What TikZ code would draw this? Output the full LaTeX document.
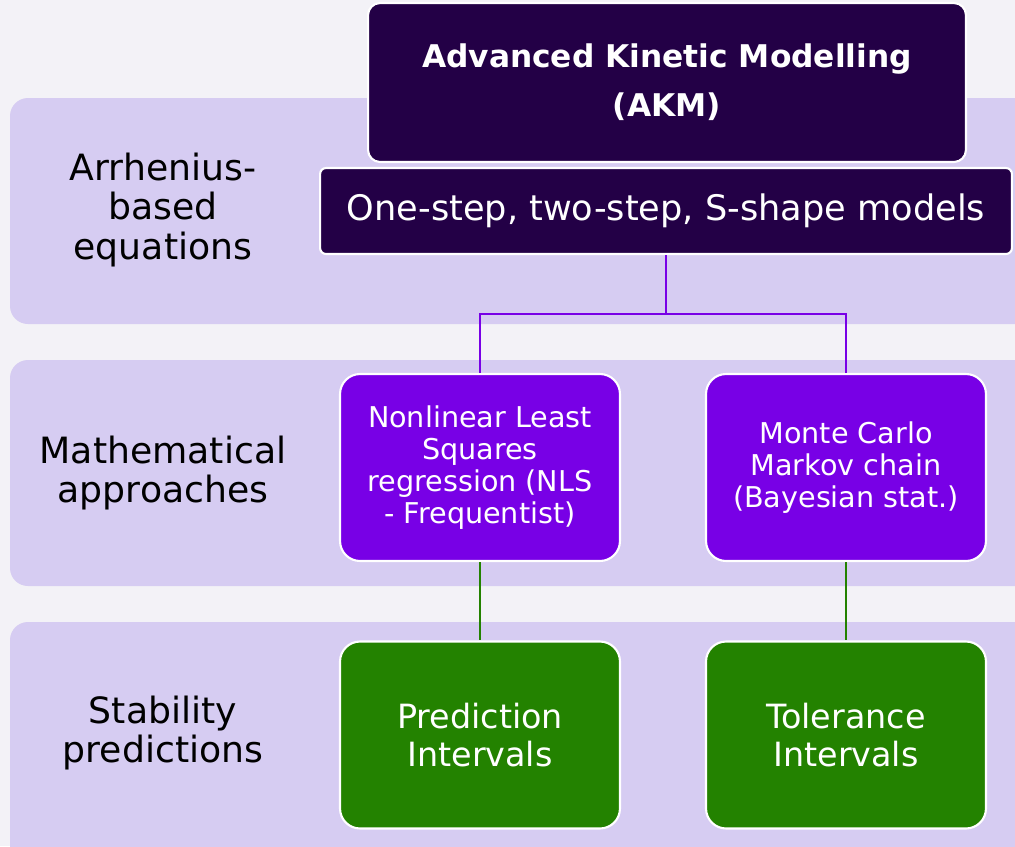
\documentclass[tikz,border=0pt]{standalone}
\usepackage{fontspec}
\setmainfont{DejaVu Sans}
\usepackage{tikz}
\usetikzlibrary{positioning}

\definecolor{pagebg}{HTML}{F3F2F7}
\definecolor{bandbg}{HTML}{D6CCF2}
\definecolor{akmdark}{HTML}{230046}
\definecolor{methpurple}{HTML}{7800E6}
\definecolor{predgreen}{HTML}{238200}

\begin{document}
\begin{tikzpicture}[x=0.02cm,y=-0.02cm,
band/.style={fill=bandbg,rounded corners=18*0.02cm},
rowlabel/.style={align=center,font=\fontsize{20.6}{22.7}\selectfont},
box/.style={draw=white,line width=1.2pt,text=white,align=center,rounded corners=20*0.02cm,
  minimum width=5.6cm,minimum height=3.74cm},
purplelink/.style={draw=methpurple,line width=1.2pt},
greenlink/.style={draw=predgreen,line width=1.2pt},
]
\useasboundingbox (0,0) rectangle (1015,846);
\fill[pagebg] (0,0) rectangle (1015,846);

% rows
\fill[band] (10,98) rectangle (1040,324);
\fill[band] (10,360) rectangle (1040,586);
\fill[band] (10,622) rectangle (1040,880);

\node[rowlabel] (arrh) at (163,210) {Arrhenius-\\based\\equations};
\node[rowlabel] (math) at (163,473) {Mathematical\\approaches};
\node[rowlabel] (stab) at (163,733) {Stability\\predictions};

% top boxes
\node[box,fill=akmdark,rounded corners=12*0.02cm,minimum width=11.96cm,minimum height=3.18cm,
  font=\bfseries\fontsize{17.8}{27.8}\selectfont] (akm) at (667,82.5) {Advanced Kinetic Modelling\\(AKM)};
\node[box,fill=akmdark,rounded corners=6*0.02cm,minimum width=13.84cm,minimum height=1.72cm,
  font=\fontsize{20}{22}\selectfont] (models) at (666,211) {One-step, two-step, S-shape models};

% methods
\node[box,fill=methpurple,font=\fontsize{16.3}{18.1}\selectfont] (nls) at (480,467.5)
  {Nonlinear Least\\Squares\\regression (NLS\\- Frequentist)};
\node[box,fill=methpurple,font=\fontsize{16.3}{18.1}\selectfont] (mcmc) at (846,467.5)
  {Monte Carlo\\Markov chain\\(Bayesian stat.)};

% predictions
\node[box,fill=predgreen,font=\fontsize{19}{21.5}\selectfont] (pi) at (480,735) {Prediction\\Intervals};
\node[box,fill=predgreen,font=\fontsize{19}{21.5}\selectfont] (ti) at (846,735) {Tolerance\\Intervals};

\coordinate (split) at (666,314);
\draw[purplelink] (models.south) -- (split) -| (nls.north);
\draw[purplelink] (split) -| (mcmc.north);
\draw[greenlink] (nls.south) -- (pi.north);
\draw[greenlink] (mcmc.south) -- (ti.north);

\end{tikzpicture}
\end{document}
